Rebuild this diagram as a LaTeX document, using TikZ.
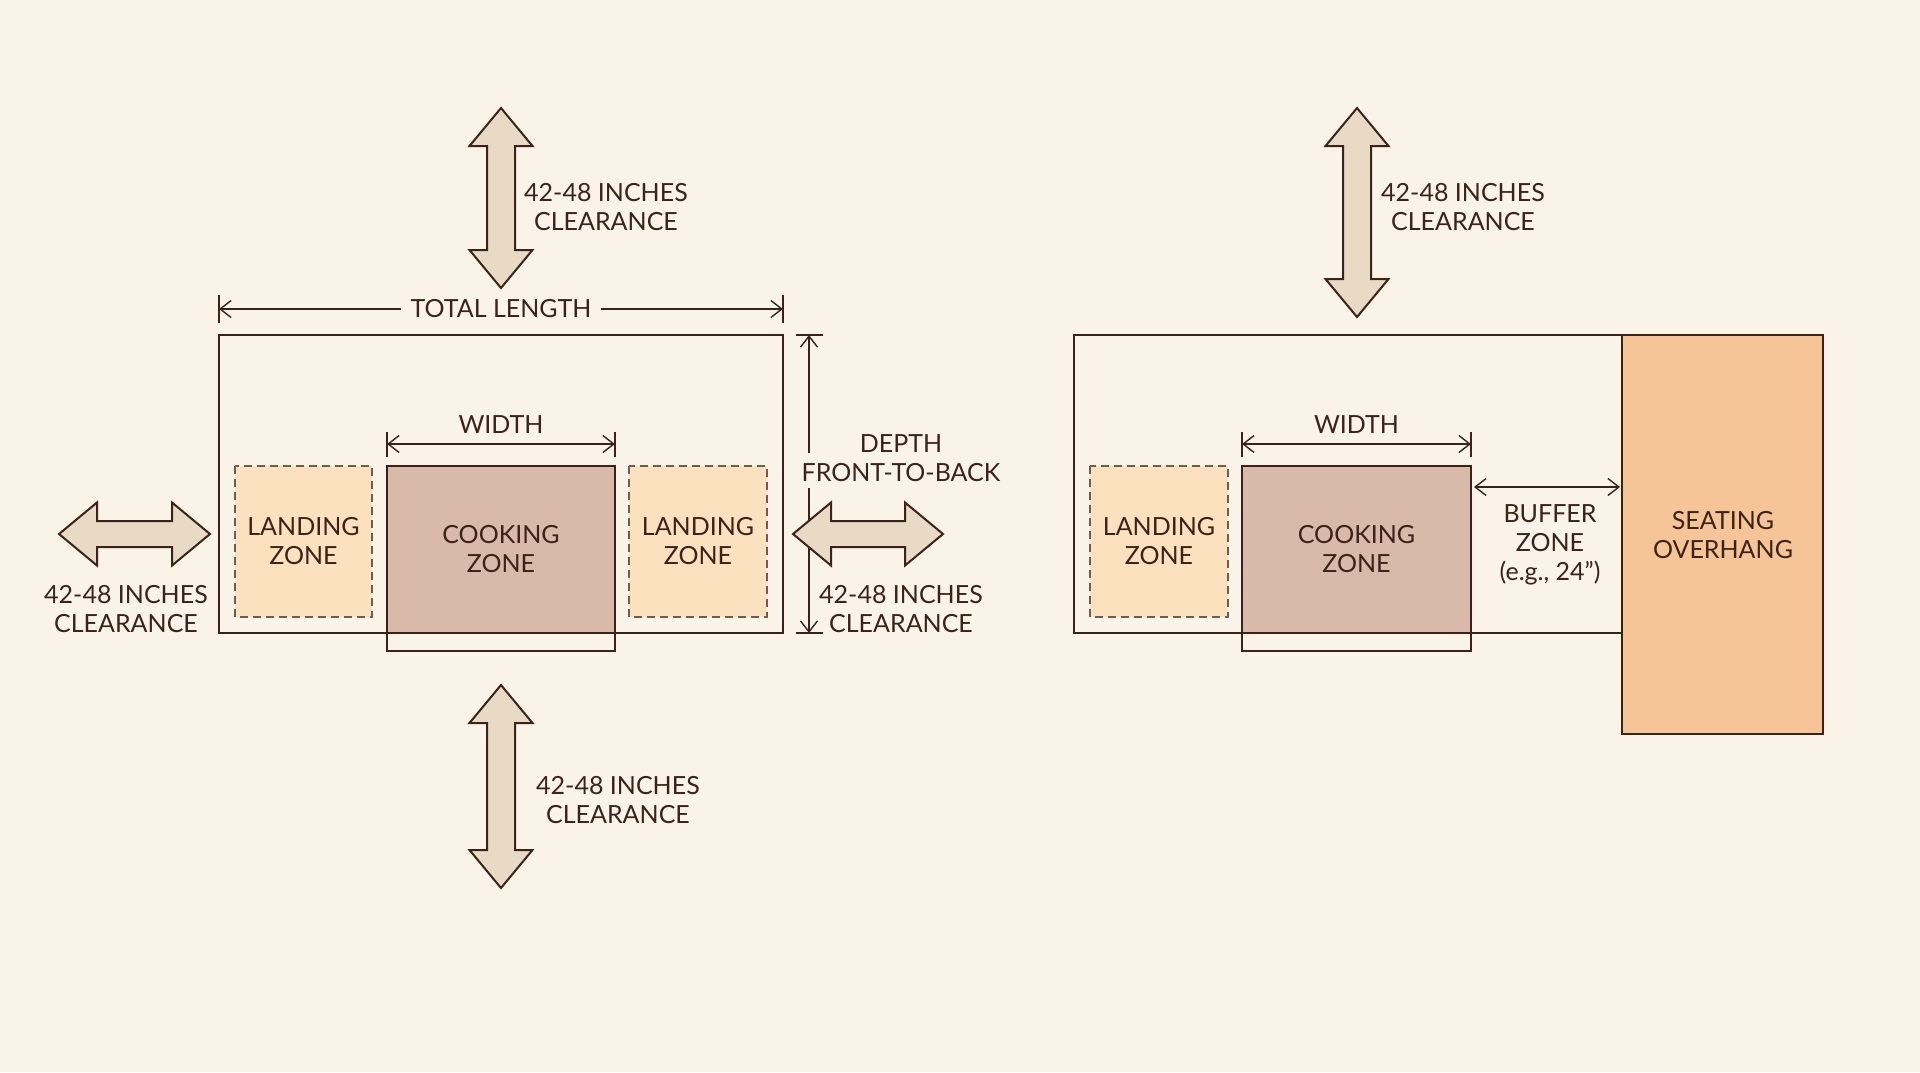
\documentclass[tikz,border=0pt]{standalone}
\usepackage{fontspec}
\setmainfont{Lato}
\usetikzlibrary{arrows.meta}
\definecolor{bg}{HTML}{FAF4E8}
\definecolor{ink}{HTML}{3C2319}
\definecolor{dashc}{HTML}{6E5C52}
\definecolor{landfill}{HTML}{FCE1BE}
\definecolor{cookfill}{HTML}{D9B9A9}
\definecolor{seatfill}{HTML}{F5C597}
\definecolor{arrowfill}{HTML}{E8DAC4}
\tikzset{
  outline/.style={draw=ink, line width=2.4pt},
  landing/.style={draw=dashc, dash pattern=on 8pt off 5pt, line width=1.4pt, fill=landfill},
  dimline/.style={draw=ink, line width=1.4pt},
  barb/.tip={Straight Barb[length=11pt,width=17pt,line width=1.4pt]},
  lbl/.style={text=ink, font=\fontsize{25}{29}\selectfont, align=center, inner sep=0pt},
  bigarrow/.style={draw=ink, line width=2pt, fill=arrowfill, line join=miter},
  pics/vbig/.style={code={
    \path[bigarrow] (0,-#1) -- (31.5,{-#1+38}) -- (14,{-#1+38}) -- (14,{#1-38})
      -- (31.5,{#1-38}) -- (0,#1) -- (-31.5,{#1-38}) -- (-14,{#1-38})
      -- (-14,{-#1+38}) -- (-31.5,{-#1+38}) -- cycle;}},
  pics/hbig/.style={code={
    \path[bigarrow] (-#1,0) -- ({-#1+38},-31.5) -- ({-#1+38},-13) -- ({#1-38},-13)
      -- ({#1-38},-31.5) -- (#1,0) -- ({#1-38},31.5) -- ({#1-38},13)
      -- ({-#1+38},13) -- ({-#1+38},31.5) -- cycle;}}
}
\begin{document}
\begin{tikzpicture}[x=1pt,y=-1pt]
\useasboundingbox[fill=bg] (0,0) rectangle (1920,1072);

% ================= LEFT DIAGRAM =================
% landing zones
\path[landing] (235,466) rectangle (372,617);
\path[landing] (629,466) rectangle (767,617);
% cooking zone (fill only inside counter)
\fill[cookfill] (387,466) rectangle (615,633);
\draw[outline] (387,466) rectangle (615,651);
% outer counter
\draw[outline] (219,335) rectangle (783,633);

\node[lbl] (ll) at (303.5,541.5) {LANDING\\ZONE};
\node[lbl] (lc) at (501,549.5) {COOKING\\ZONE};
\node[lbl] (lr) at (698,541.5) {LANDING\\ZONE};

% total length
\coordinate (tlA) at (219,309);
\coordinate (tlB) at (783,309);
\draw[dimline] (219,295) -- (219,323);
\draw[dimline] (783,295) -- (783,323);
\draw[dimline, barb-barb] (tlA) -- (tlB);
\node[lbl, fill=bg, inner xsep=10pt, inner ysep=4pt] (tl) at (501,309) {TOTAL LENGTH};

% width
\coordinate (wA) at (387,444);
\coordinate (wB) at (615,444);
\draw[dimline] (387,432) -- (387,457);
\draw[dimline] (615,432) -- (615,457);
\draw[dimline, barb-barb] (wA) -- (wB);
\node[lbl] (wl) at (501,425) {WIDTH};

% depth
\coordinate (dA) at (809,335);
\coordinate (dG1) at (809,453);
\coordinate (dG2) at (809,488);
\coordinate (dB) at (809,633);
\draw[dimline] (796,335) -- (823,335);
\draw[dimline] (796,633) -- (823,633);
\draw[dimline, barb-] (dA) -- (dG1);
\draw[dimline, -barb] (dG2) -- (dB);
\node[lbl] (dl) at (901,458) {DEPTH\\FRONT-TO-BACK};

% big clearance arrows
\pic (ta) at (501,198) {vbig=90};
\node[lbl] (tat) at (606,207.5) {42-48 INCHES\\CLEARANCE};
\pic (ba) at (501,786.5) {vbig=101.5};
\node[lbl] (bat) at (618,800.5) {42-48 INCHES\\CLEARANCE};
\pic (la) at (134.5,534) {hbig=75.5};
\node[lbl] (lat) at (126,609) {42-48 INCHES\\CLEARANCE};
\pic (ra) at (868,534) {hbig=75};
\node[lbl] (rat) at (901,609) {42-48 INCHES\\CLEARANCE};

% ================= RIGHT DIAGRAM =================
\path[landing] (1090,466) rectangle (1228,617);
\fill[cookfill] (1242,466) rectangle (1471,633);
\draw[outline] (1242,466) rectangle (1471,651);
\draw[outline] (1074,335) rectangle (1622,633);
\draw[outline, fill=seatfill] (1622,335) rectangle (1823,734);

\node[lbl] (rl) at (1159,541.5) {LANDING\\ZONE};
\node[lbl] (rc) at (1356.5,549.5) {COOKING\\ZONE};
\node[lbl] (so) at (1723,535) {SEATING\\OVERHANG};

% width
\coordinate (rwA) at (1242,444);
\coordinate (rwB) at (1471,444);
\draw[dimline] (1242,432) -- (1242,457);
\draw[dimline] (1471,432) -- (1471,457);
\draw[dimline, barb-barb] (rwA) -- (rwB);
\node[lbl] (rwl) at (1356.5,425) {WIDTH};

% buffer
\coordinate (bfA) at (1474,487);
\coordinate (bfB) at (1620,487);
\draw[dimline, barb-barb] (bfA) -- (bfB);
\node[lbl] (bfl) at (1550,545) {BUFFER\\ZONE\\(e.g., 24”)};

% top clearance
\pic (rta) at (1357,212.5) {vbig=104.5};
\node[lbl] (rtat) at (1463,207.5) {42-48 INCHES\\CLEARANCE};
\end{tikzpicture}
\end{document}
